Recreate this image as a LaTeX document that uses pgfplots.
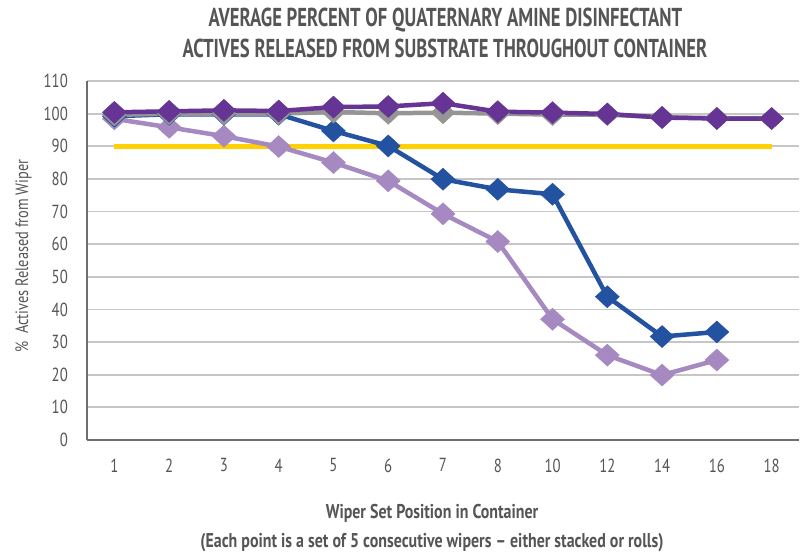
\documentclass[border=0pt]{standalone}
\usepackage{pgfplots}
\pgfplotsset{compat=1.18}
\usepackage{fontspec}
\setmainfont{PT Sans}
\newfontfamily\titlefont[FakeStretch=0.72, Ligatures=TeX]{PT Sans}
\newfontfamily\xlabfont[FakeStretch=0.80, Ligatures=TeX]{PT Sans}
\newfontfamily\tickfont[FakeStretch=0.78]{PT Sans}
\newfontfamily\ylabfont[FakeStretch=0.80]{PT Sans}
\definecolor{dpurple}{RGB}{101,52,148}
\definecolor{lpurple}{RGB}{165,137,192}
\definecolor{dblue}{RGB}{35,82,160}
\definecolor{mgray}{RGB}{149,149,149}
\definecolor{gold}{RGB}{255,209,0}
\definecolor{gridc}{RGB}{198,198,198}
\definecolor{axisc}{RGB}{110,110,110}
\definecolor{txt}{RGB}{85,85,85}
\begin{document}
\begin{tikzpicture}[x=1bp,y=1bp]
\path[use as bounding box] (0,0) rectangle (801,554);
\begin{axis}[
  at={(87bp,114bp)}, anchor=south west,
  scale only axis, width=712bp, height=359bp,
  xmin=-0.5, xmax=12.5, ymin=0, ymax=110,
  ytick={0,10,...,110},
  xtick={0,...,12},
  xticklabels={1,2,3,4,5,6,7,8,10,12,14,16,18},
  axis lines=left,
  axis line style={-, color=axisc, line width=2bp},
  ymajorgrids,
  major grid style={color=gridc, line width=1.8bp},
  major tick length=0pt,
  /pgf/number format/assume math mode=true,
  yticklabel style={font=\tickfont\fontsize{19}{19}\selectfont, text=txt, anchor=east, inner sep=0pt, xshift=-19bp},
  xticklabel style={font=\tickfont\fontsize{19}{19}\selectfont, text=txt, anchor=north, inner sep=0pt, yshift=-18.5bp},
  clip=false,
  every axis plot/.append style={line width=4.5bp},
]
\addplot[color=gold, line width=5bp, line cap=butt] coordinates {(0,90) (12,90)};
\addplot[color=lpurple, mark=diamond*, mark size=11bp, mark options={solid, line width=0.5bp, xscale=1.45}] coordinates {
(0,98.4) (1,95.8) (2,93.1) (3,89.9) (4,85.0) (5,79.4) (6,69.3) (7,60.8) (8,37.0) (9,26.0) (10,19.9) (11,24.5)};
\addplot[color=dblue, mark=diamond*, mark size=11bp, mark options={solid, line width=0.5bp, xscale=1.45}] coordinates {
(0,99.2) (1,99.8) (2,99.8) (3,99.8) (4,94.7) (5,90.1) (6,79.9) (7,76.8) (8,75.3) (9,43.9) (10,31.7) (11,33.1)};
\addplot[color=mgray, mark=diamond*, mark size=11bp, mark options={solid, line width=0.5bp, xscale=1.45}] coordinates {
(0,99.6) (1,100.0) (2,100.0) (3,100.0) (4,100.5) (5,100.1) (6,100.3) (7,100.0) (8,99.7) (9,99.7) (10,98.9) (11,98.6) (12,98.5)};
\addplot[color=dpurple, mark=diamond*, mark size=11bp, mark options={solid, line width=0.5bp, xscale=1.45}] coordinates {
(0,100.4) (1,100.7) (2,101.0) (3,100.8) (4,102.0) (5,102.2) (6,103.2) (7,100.6) (8,100.3) (9,99.9) (10,98.8) (11,98.5) (12,98.5)};
\end{axis}
\node[anchor=base, text=txt, inner sep=0pt, font=\titlefont\bfseries\fontsize{26}{26}\selectfont] at (445.5,527) {AVERAGE PERCENT OF QUATERNARY AMINE DISINFECTANT};
\node[anchor=base, text=txt, inner sep=0pt, font=\titlefont\bfseries\fontsize{26}{26}\selectfont] at (445,496) {ACTIVES RELEASED FROM SUBSTRATE THROUGHOUT CONTAINER};
\node[anchor=base, text=txt, inner sep=0pt, font=\xlabfont\bfseries\fontsize{20}{20}\selectfont] at (432,35) {Wiper Set Position in Container};
\node[anchor=base, text=txt, inner sep=0pt, font=\xlabfont\bfseries\fontsize{20}{20}\selectfont] at (432,6.5) {(Each point is a set of 5 consecutive wipers – either stacked or rolls)};
\node[anchor=base, rotate=90, text=txt, inner sep=0pt, font=\ylabfont\fontsize{18}{18}\selectfont] at (28,298) {\%\ \ Actives Released from Wiper};
\end{tikzpicture}
\end{document}
